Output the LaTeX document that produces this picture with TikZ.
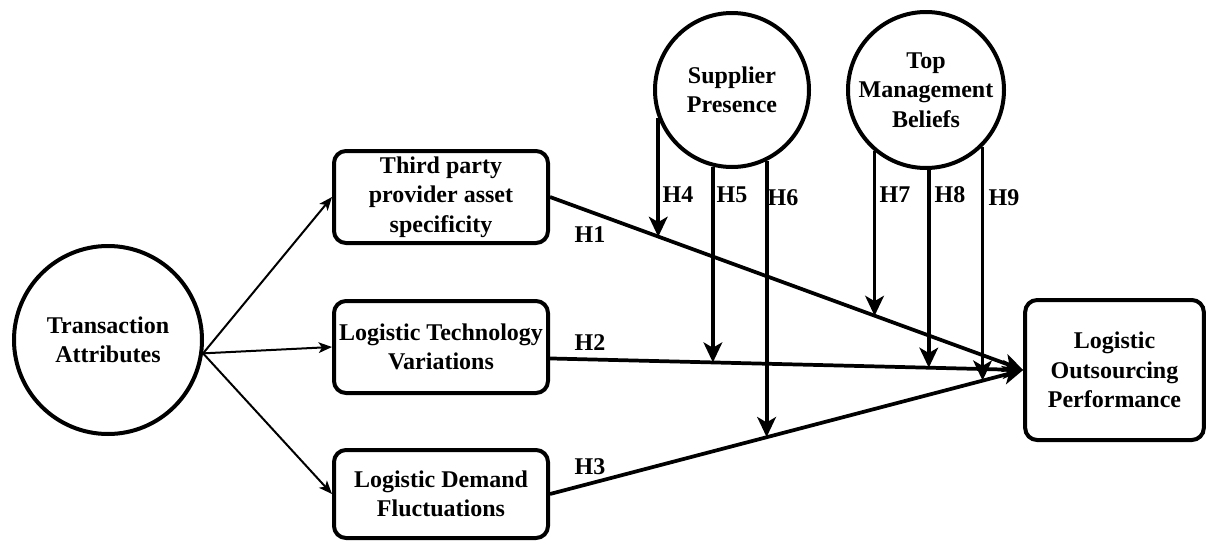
\documentclass[tikz,border=0pt]{standalone}
\usepackage{fontspec}
\setmainfont{Liberation Serif}
\usetikzlibrary{arrows.meta}
\begin{document}
\begin{tikzpicture}[x=0.75pt,y=-0.75pt,
  lbl/.style={font=\fontsize{18}{22}\selectfont\bfseries, align=center},
  circ/.style={draw, circle, line width=3pt, inner sep=0pt, lbl},
  box/.style={draw, rectangle, rounded corners=9pt, line width=3pt, inner sep=0pt, lbl},
  thinarrow/.style={line width=1.5pt, -{Stealth[length=10pt,width=8pt,inset=2.5pt]}},
  thickarrow/.style={line width=2.8pt, -{Stealth[length=15pt,width=14pt,inset=4pt]}},
  hl/.style={font=\fontsize{18}{22}\selectfont\bfseries}
]
\useasboundingbox (0,0) rectangle (1208,543);

% nodes
\node[circ, minimum size=141pt] (ta) at (108,340) {Transaction\\Attributes};
\node[circ, minimum size=115.5pt] (sp) at (732,90) {Supplier\\Presence};
\node[circ, minimum size=117pt] (tm) at (926,90) {Top\\Management\\Beliefs};

\node[box, minimum width=160.5pt, minimum height=69pt] (tpp) at (441,197) {Third party\\provider asset\\specificity};
\node[box, minimum width=160.5pt, minimum height=69pt] (tech) at (441,347) {Logistic Technology\\Variations};
\node[box, minimum width=160.5pt, minimum height=66pt] (dem) at (441,494) {Logistic Demand\\Fluctuations};
\node[box, minimum width=134pt, minimum height=105pt] (perf) at (1114.5,370) {Logistic\\Outsourcing\\Performance};

% transaction arrows
\draw[thinarrow] (ta.-8) -- (tpp.west);
\draw[thinarrow] (ta.-8) -- (tech.west);
\draw[thinarrow] (ta.-8) -- (dem.west);

% main paths
\draw[thickarrow] (tpp.east) -- (perf.west);
\draw[thickarrow] (tech.-6) -- (perf.west);
\draw[thickarrow] (dem.east) -- (perf.west);

% points on main paths
\path (tpp.east) -- (perf.west) coordinate[pos=0.230] (m4) coordinate[pos=0.687] (m7);
\path (tech.-6) -- (perf.west) coordinate[pos=0.345] (m5) coordinate[pos=0.801] (m8);
\path (dem.east) -- (perf.west) coordinate[pos=0.459] (m6) coordinate[pos=0.915] (m9);

% moderator arrows
\draw[thickarrow] (sp.201.6) -- (sp.201.6 |- m4);
\draw[thickarrow] (sp.256.1) -- (sp.256.1 |- m5);
\draw[thickarrow] (sp.296.3) -- (sp.296.3 |- m6);
\draw[thickarrow] (tm.230.4) -- (tm.230.4 |- m7);
\draw[thickarrow] (tm.272.1) -- (tm.272.1 |- m8);
\draw[thickarrow] (tm.315.4) -- (tm.315.4 |- m9);

% labels
\node[hl] (h1) at (590,235) {H1};
\node[hl] (h2) at (590,343) {H2};
\node[hl] (h3) at (590,467) {H3};
\node[hl] (h4) at (678,195) {H4};
\node[hl] (h5) at (732,195) {H5};
\node[hl] (h6) at (783,198) {H6};
\node[hl] (h7) at (895,195) {H7};
\node[hl] (h8) at (950,195) {H8};
\node[hl] (h9) at (1004,198) {H9};
\end{tikzpicture}
\end{document}
